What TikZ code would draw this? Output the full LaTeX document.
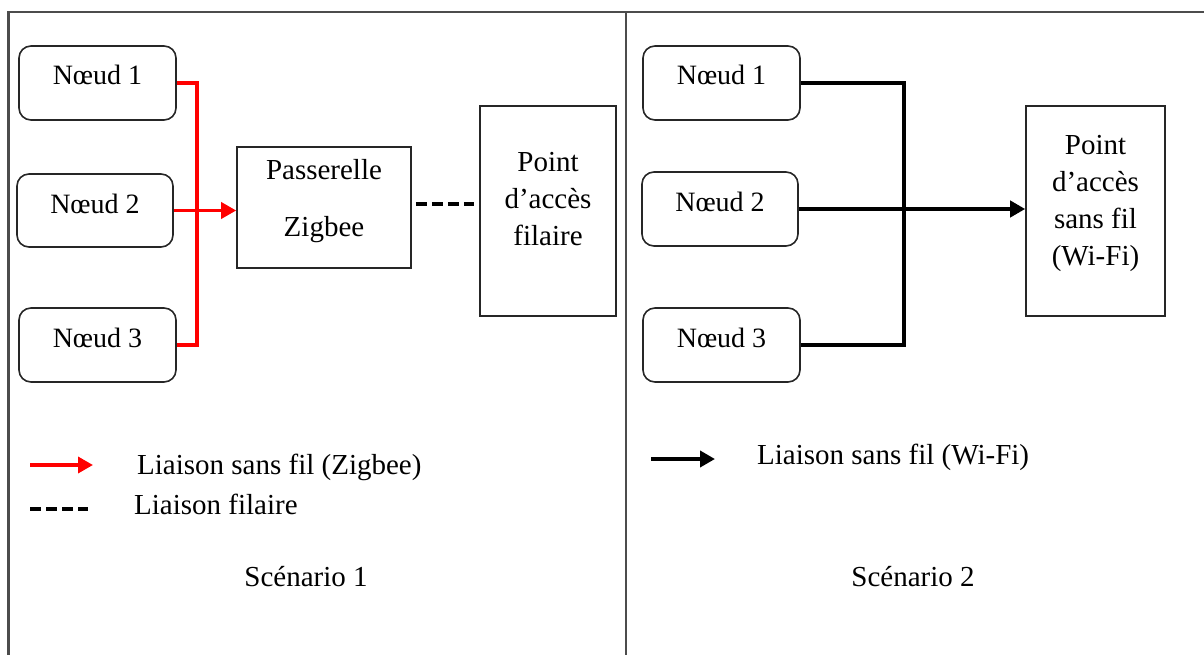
\documentclass[tikz,border=0pt]{standalone}
\usepackage{fontspec}
\setmainfont{Liberation Serif}
\usetikzlibrary{arrows.meta,calc}

\begin{document}
\begin{tikzpicture}[x=1pt,y=-1pt,
  txt/.style={font=\fontsize{29}{37}\selectfont,inner sep=0pt,align=center},
  nodetxt/.style={font=\fontsize{28}{30}\selectfont,inner sep=0pt},
  nodebox/.style={draw=black!85,line width=1.6pt,rounded corners=12pt,
    minimum width=157pt,minimum height=74pt,inner sep=0pt},
  blockbox/.style={draw=black!85,line width=1.6pt,inner sep=0pt},
  frame/.style={draw=black!70,line width=2.8pt},
  zigbee/.style={draw=red,line width=3.5pt,line join=miter},
  wifi/.style={draw=black,line width=4pt,line join=miter},
  wired/.style={draw=black,line width=4pt,dash pattern=on 11pt off 5pt},
  tip/.style={-{Triangle[length=15pt,width=16pt]}}
]
\useasboundingbox (0,0) rectangle (1204,655);

% outer frame and divider between the two scenarios
\draw[frame] (1210,12) -- (8.5,12) -- (8.5,662);
\draw[frame] (626,12) -- (626,662);

% ---------- Scenario 1 ----------
\node[nodebox] (n1) at (97.5,83) {};
\node[nodebox,minimum width=156pt,minimum height=73pt] (n2) at (95,210.5) {};
\node[nodebox] (n3) at (97.5,345) {};
\node[nodetxt] (n1t) at ($(n1.center)+(0,-8)$) {Nœud 1};
\node[nodetxt] (n2t) at ($(n2.center)+(0,-7)$) {Nœud 2};
\node[nodetxt] (n3t) at ($(n3.center)+(0,-7)$) {Nœud 3};

\node[blockbox,minimum width=174pt,minimum height=121pt] (gw) at (324,207.5) {};
\node[txt,font=\fontsize{29}{57}\selectfont] (gwt) at (324,201) {Passerelle\\Zigbee};

\node[blockbox,minimum width=136pt,minimum height=210pt] (ap1) at (548,211) {};
\node[txt] (ap1t) at (548,199) {Point\\d’accès\\filaire};

\coordinate (jz) at (197,0);
\draw[zigbee] (n1.east) -| (jz |- n3.east) -- (n3.east);
\draw[zigbee,tip] (n2.east) -- (n2.east -| gw.west);
\draw[wired] ($(gw.east)+(4,-3)$) -- ($(gw.east -| ap1.west)+(-5,-3)$);

% legend
\coordinate (lz0) at (30,465);
\coordinate (lz1) at (93,465);
\draw[zigbee,tip] (lz0) -- (lz1);
\node[txt,anchor=west] (lzt) at (137,467) {Liaison sans fil (Zigbee)};
\coordinate (lw0) at (30,509);
\coordinate (lw1) at (88,509);
\draw[wired] (lw0) -- (lw1);
\node[txt,anchor=west] (lwt) at (134,504) {Liaison filaire};
\node[txt] (s1) at (306,577) {Scénario 1};

% ---------- Scenario 2 ----------
\node[nodebox] (m1) at (721.5,83) {};
\node[nodebox,minimum width=156pt] (m2) at (720,209) {};
\node[nodebox] (m3) at (721.5,345) {};
\node[nodetxt] (m1t) at ($(m1.center)+(0,-8)$) {Nœud 1};
\node[nodetxt] (m2t) at ($(m2.center)+(0,-7)$) {Nœud 2};
\node[nodetxt] (m3t) at ($(m3.center)+(0,-7)$) {Nœud 3};

\node[blockbox,minimum width=139pt,minimum height=210pt] (ap2) at (1095.5,211) {};
\node[txt] (ap2t) at (1095.5,203) {Point\\d’accès\\sans fil\\(Wi-Fi)};

\coordinate (jw) at (904,0);
\draw[wifi] (m1.east) -| (jw |- m3.east) -- (m3.east);
\draw[wifi,tip] (m2.east) -- (m2.east -| ap2.west);

% legend
\coordinate (lf0) at (651,459);
\coordinate (lf1) at (715,459);
\draw[wifi,tip] (lf0) -- (lf1);
\node[txt,anchor=west] (lft) at (757,457) {Liaison sans fil (Wi-Fi)};
\node[txt] (s2) at (913,577) {Scénario 2};
\end{tikzpicture}
\end{document}
